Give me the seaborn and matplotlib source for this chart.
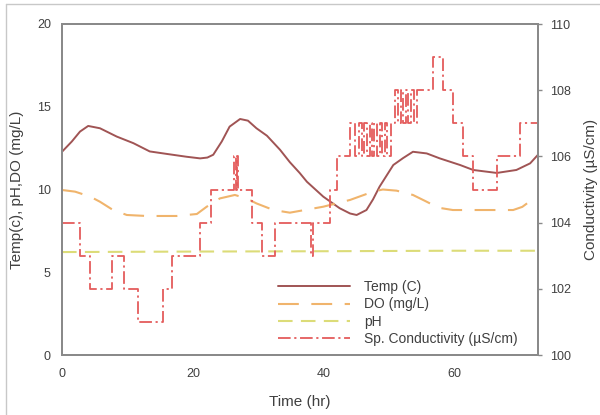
import numpy as np
import pandas as pd
import matplotlib
matplotlib.use("Agg")
import matplotlib.pyplot as plt
import seaborn as sns
from matplotlib.lines import Line2D

sns.set_theme(style="white")
plt.rcParams['font.family'] = ['Liberation Sans', 'DejaVu Sans']

# ---- data ----
temp_t = [0, 1.5, 2.75, 4, 5.8, 8.35, 10.9, 13.4, 16, 19, 21.1, 22.2, 23.1, 24.4, 25.6, 27.2, 28.4, 29.7, 31.3,
          33.3, 34.8, 36.3, 37.4, 39.9, 42.4, 44, 45, 46.5, 47.5, 48.5, 50.6, 52.1, 53.6, 55.7, 57.7, 60.8, 62.8,
          66.4, 69.4, 71.5, 72.7]
temp_v = [12.28, 12.9, 13.5, 13.84, 13.7, 13.2, 12.8, 12.3, 12.15, 11.98, 11.88, 11.93, 12.1, 12.9, 13.8, 14.26, 14.16,
          13.7, 13.25, 12.4, 11.65, 11.0, 10.47, 9.57, 8.87, 8.55, 8.46, 8.76, 9.4, 10.17, 11.48, 11.9, 12.28, 12.18,
          11.88, 11.48, 11.18, 11.0, 11.18, 11.58, 12.1]

do_t = [0, 2, 4.3, 5.8, 7.8, 9.9, 12.9, 17.5, 20.6, 22.1, 24.1, 26.4, 28.2, 29.7, 32.3, 34.8, 39.9, 44, 47.5, 49,
        51.1, 53.6, 55.5, 57.5, 59.7, 68.9, 70.3, 71.5, 72.7]
do_v = [9.97, 9.87, 9.57, 9.26, 8.76, 8.46, 8.4, 8.4, 8.52, 8.96, 9.46, 9.67, 9.46, 9.16, 8.76, 8.6, 8.96, 9.37, 9.87,
        10.0, 9.93, 9.67, 9.3, 8.9, 8.76, 8.76, 8.95, 9.3, 9.55]

ph_t = [0, 20, 40, 60, 72.7]
ph_v = [6.22, 6.25, 6.27, 6.3, 6.3]

cond_t = [0, 2.75, 4.3, 7.6, 8.9, 9.4, 11.6, 15.4, 16.8, 21.1, 22.7, 26.3, 26.5, 26.7, 26.9, 29.0, 30.5, 32.5,
          38.0, 38.3, 41.0, 42.0, 44.0, 44.8, 45.3, 45.8, 46.2, 46.6, 47.0, 47.3, 47.7, 48.1, 48.5, 48.9, 49.3, 49.7,
          50.2, 50.8, 51.3, 51.7, 52.1, 52.5, 52.9, 53.3, 53.8, 54.2, 56.6, 58.2, 59.7, 61.2, 62.8, 66.4, 70.0, 72.7]
cond_v = [104, 103, 102, 103, 103, 102, 101, 102, 103, 104, 105, 106, 105, 106, 105, 104, 103, 104,
          103, 104, 105, 106, 107, 106, 107, 106, 107, 106, 107, 106, 107, 106, 107, 106, 107, 106,
          107, 108, 107, 108, 107, 108, 107, 108, 107, 108, 109, 108, 107, 106, 105, 106, 107, 107]

labels = ["Temp (C)", "DO (mg/L)", "pH", "Sp. Conductivity (\u00b5S/cm)"]
colors = ["#a05454", "#f0b46c", "#dcdc78", "#e45c5c"]

# ---- figure ----
fig = plt.figure(figsize=(6.0, 4.15), dpi=100)
ax = fig.add_axes([62/600, 60/415, 476/600, 331/415])
ax2 = ax.twinx()

sns.lineplot(x=temp_t, y=temp_v, ax=ax, color=colors[0], lw=1.4, sort=False)
ax.lines[-1].set_solid_joinstyle("round")
sns.lineplot(x=do_t, y=do_v, ax=ax, color=colors[1], lw=1.5, sort=False)
ax.lines[-1].set_dashes((10, 6))
sns.lineplot(x=ph_t, y=ph_v, ax=ax, color=colors[2], lw=1.5, sort=False)
ax.lines[-1].set_dashes((7, 4))
sns.lineplot(x=cond_t, y=cond_v, ax=ax2, color=colors[3], lw=1.3, sort=False, drawstyle="steps-post")
ax2.lines[-1].set_dashes((7, 2, 1.2, 2))

ax.set_xlim(0, 72.7)
ax.set_ylim(0, 20)
ax2.set_ylim(100, 110)
ax.set_xticks([0, 20, 40, 60])
ax.set_yticks([0, 5, 10, 15, 20])
ax2.set_yticks([100, 102, 104, 106, 108, 110])

tc = "#404040"
for a in (ax, ax2):
    for s in a.spines.values():
        s.set_color("#8a8a8a")
        s.set_linewidth(1.4)
    a.tick_params(colors="#8a8a8a", labelcolor=tc, labelsize=9, length=3, width=1, direction="out")
ax.tick_params(axis="y", length=0, pad=8)
ax.tick_params(axis="x", length=3, pad=6)
ax2.tick_params(axis="y", right=True, length=3, pad=6)

ax.set_xlabel("Time (hr)", fontsize=11, color=tc, labelpad=11)
ax.set_ylabel("Temp(c), pH,DO (mg/L)", fontsize=11, color=tc, labelpad=9)
ax2.set_ylabel("Conductivity (\u00b5S/cm)", fontsize=11, color=tc, labelpad=9)

handles = [
    Line2D([], [], color=colors[0], lw=1.4),
    Line2D([], [], color=colors[1], lw=1.5, dashes=(10, 6)),
    Line2D([], [], color=colors[2], lw=1.5, dashes=(7, 4)),
    Line2D([], [], color=colors[3], lw=1.3, dashes=(7, 2, 1.2, 2)),
]
leg = ax2.legend(handles, labels, loc="lower left", bbox_to_anchor=(209/476, 2/331), frameon=False,
                 fontsize=10, handlelength=5.2, handletextpad=1.0, labelspacing=0.24, borderpad=0)
for t in leg.get_texts():
    t.set_color(tc)

# outer frame lines
fig.add_artist(Line2D([6/600, 1], [1 - 4/415, 1 - 4/415], transform=fig.transFigure, color="#c8c8c8", lw=1))
fig.add_artist(Line2D([6/600, 6/600], [0, 1 - 4/415], transform=fig.transFigure, color="#c8c8c8", lw=1))

fig.savefig("out.png", dpi=100)
